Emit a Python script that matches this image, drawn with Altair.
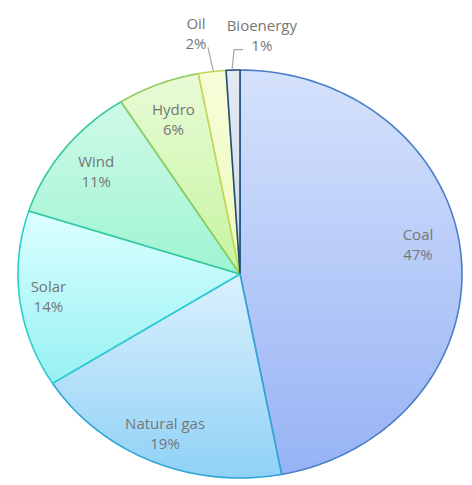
import altair as alt

# ---- data ----
categories = ["Coal", "Natural gas", "Solar", "Wind", "Hydro", "Oil", "Bioenergy"]
shares = [47, 19, 14, 11, 6, 2, 1]

# ---- styles / layout ----
fill_top = ["#d6e2fc", "#dcf1fd", "#dcffff", "#cffae8", "#e8fbd7", "#f7fdd8", "#e3e9f2"]
fill_bottom = ["#97b3f5", "#8fd1f6", "#97f1f3", "#9ef4d2", "#c6f49f", "#eefbbd", "#d0dae9"]
stroke_colors = ["#4a7ec6", "#31a5d8", "#2fcdd0", "#34c99c", "#8fcc5c", "#c5d75a", "#1f4e79"]
label_radius = [0.815, 0.85, 0.87, 0.82, 0.815, 1.20, 1.176]
label_shift = [-5, 0, 0, 0, 0, -2.3, 6.6]
leader_shift = [[], [], [], [], [], [0.3, -0.2], [-0.25, 0.4, 2.5]]
leader_radius = [[], [], [], [], [], [1.0, 1.12], [1.0, 1.10, 1.10]]

records = []
for k, (c, s) in enumerate(zip(categories, shares)):
    records.append({
        "k": k, "cat": c, "share": s,
        "lr": label_radius[k], "ls": label_shift[k],
        "lstep": list(range(len(leader_shift[k]))),
        "loff": leader_shift[k], "lrad": leader_radius[k],
    })
src = alt.Data(values=records)

CX, CY, RX, RY = 240, 274, 222, 204
xs = alt.Scale(domain=[-1, 1], range=[CX - RX, CX + RX])
ys = alt.Scale(domain=[-1, 1], range=[CY + RY, CY - RY])
N = 90

geo = (
    alt.Chart(src)
    .transform_window(cum="sum(share)", sort=[alt.SortField("k", order="ascending")], frame=[None, 0])
    .transform_joinaggregate(total="sum(share)")
    .transform_calculate(
        a0="2*PI*(datum.cum-datum.share)/datum.total",
        a1="2*PI*datum.cum/datum.total",
    )
    .transform_calculate(amid="(datum.a0+datum.a1)/2")
)

layers = []
for k, c in enumerate(categories):
    grad = alt.Gradient(
        gradient="linear",
        stops=[alt.GradientStop(color=fill_top[k], offset=0),
               alt.GradientStop(color=fill_bottom[k], offset=1)],
        x1=0, x2=0, y1=0, y2=1,
    )
    sl = (
        geo.transform_filter(alt.datum.cat == c)
        .transform_calculate(i=f"sequence(-1, {N + 2})")
        .transform_flatten(["i"])
        .transform_calculate(
            rr=f"(datum.i < 0 || datum.i > {N}) ? 0 : 1",
            ang=f"datum.a0 + (datum.a1 - datum.a0) * clamp(datum.i, 0, {N}) / {N}",
        )
        .transform_calculate(px="datum.rr*sin(datum.ang)", py="datum.rr*cos(datum.ang)")
        .mark_line(fill=grad, stroke=stroke_colors[k], strokeWidth=1.6, strokeJoin="round")
        .encode(
            x=alt.X("px:Q", scale=xs, axis=None),
            y=alt.Y("py:Q", scale=ys, axis=None),
            order=alt.Order("i:Q"),
        )
    )
    layers.append(sl)

leaders = (
    geo.transform_flatten(["lstep", "loff", "lrad"])
    .transform_calculate(la="datum.amid + datum.loff*PI/180")
    .transform_calculate(qx="datum.lrad*sin(datum.la)", qy="datum.lrad*cos(datum.la)")
    .mark_line(stroke="#a6a6a6", strokeWidth=1.2)
    .encode(
        x=alt.X("qx:Q", scale=xs, axis=None),
        y=alt.Y("qy:Q", scale=ys, axis=None),
        order=alt.Order("lstep:Q"),
        detail="cat:N",
    )
)
layers.append(leaders)

labels = (
    geo.transform_calculate(la="datum.amid + datum.ls*PI/180")
    .transform_calculate(
        tx="datum.lr*sin(datum.la)",
        ty="datum.lr*cos(datum.la)",
        label="datum.cat + '\\n' + datum.share + '%'",
    )
    .mark_text(font="Open Sans", fontSize=15, color="#767676", lineBreak="\n",
               lineHeight=20, align="center", baseline="middle", dy=-9)
    .encode(
        x=alt.X("tx:Q", scale=xs, axis=None),
        y=alt.Y("ty:Q", scale=ys, axis=None),
        text="label:N",
    )
)
layers.append(labels)

chart = (
    alt.layer(*layers)
    .properties(width=472, height=485, padding=0, autosize="none", background="white")
    .configure_view(stroke=None)
)

chart.save("out.html", embed_options={"renderer": "svg", "actions": False})
